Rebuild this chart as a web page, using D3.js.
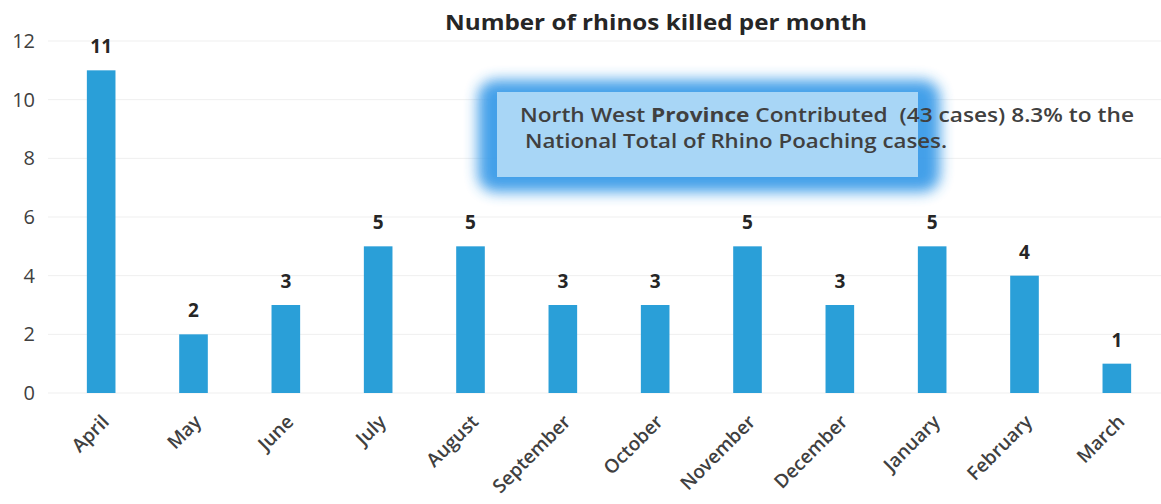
<!DOCTYPE html>
<html><head><meta charset="utf-8">
<script src="https://cdn.jsdelivr.net/npm/d3@7"></script>
<style>body{margin:0;background:#fff}</style>
</head><body>
<svg id="c" width="1161" height="504"></svg>
<script>
const months = ["April","May","June","July","August","September","October","November","December","January","February","March"];
const killed = [11,2,3,5,5,3,3,5,3,5,4,1];
const yTicks = [0,2,4,6,8,10,12];
const title = "Number of rhinos killed per month";
const noteLine1 = ["North West ", "Province", " Contributed\u00a0\u00a0(43 cases) 8.3% to the"];
const noteLine2 = "National Total of Rhino Poaching cases.";

const svg = d3.select("#c");
const m = {left:55, right:-2, top:41, bottom:111};
const W = 1161, H = 504;
const x = d3.scaleBand().domain(months).range([m.left, W - m.right]).paddingInner(0.69).paddingOuter(0.345);
const y = d3.scaleLinear().domain([0,12]).range([H - m.bottom, m.top]);

const defs = svg.append("defs");
const f = defs.append("filter").attr("id","glow").attr("x","-20%").attr("y","-40%").attr("width","140%").attr("height","180%");
f.append("feGaussianBlur").attr("stdDeviation",7);

// grid
svg.append("g").selectAll("line").data(yTicks).join("line")
  .attr("x1",48).attr("x2",W).attr("y1",d=>y(d)).attr("y2",d=>y(d))
  .attr("stroke","#efefef").attr("stroke-width",1);

// y axis labels
const yAxis = d3.axisLeft(y).tickValues(yTicks).tickSize(0).tickPadding(0);
const ga = svg.append("g").attr("transform","translate(35,0)").call(yAxis);
ga.select(".domain").remove();
ga.selectAll("text").attr("font-family","Open Sans, sans-serif").attr("font-size",20).attr("fill","#404040");

// bars
svg.append("g").selectAll("rect").data(killed).join("rect")
  .attr("x",(d,i)=>x(months[i])).attr("width",x.bandwidth())
  .attr("y",d=>y(d)).attr("height",d=>y(0)-y(d)).attr("fill","#2a9fd8");

// value labels
svg.append("g").selectAll("text").data(killed).join("text")
  .attr("x",(d,i)=>x(months[i])+x.bandwidth()/2).attr("y",d=>y(d)-17)
  .attr("text-anchor","middle").attr("font-family","Open Sans, sans-serif").attr("font-weight","bold")
  .attr("font-size",19).attr("fill","#262626").text(d=>d);

// x labels
const xa = svg.append("g").attr("transform",`translate(0,${y(0)})`).call(d3.axisBottom(x).tickSize(0).tickPadding(0));
xa.select(".domain").remove();
xa.selectAll("text").attr("font-family","Open Sans, sans-serif").attr("font-size",19).attr("font-weight",600).attr("fill","#404040")
  .attr("text-anchor","end").attr("dy",0)
  .attr("transform","translate(9,30) rotate(-45)");

// title
svg.append("text").attr("x",656).attr("y",30).attr("text-anchor","middle")
  .attr("font-family","Open Sans, sans-serif").attr("font-weight","bold").attr("font-size",22)
  .attr("fill","#262626").attr("textLength",422).attr("lengthAdjust","spacingAndGlyphs").text(title);

// annotation box
const bx = 478, by = 80, bw = 462, bh = 112;
svg.append("rect").attr("x",bx).attr("y",by).attr("width",bw).attr("height",bh).attr("rx",18)
  .attr("fill","#3a9be8").attr("filter","url(#glow)").attr("opacity",0.95);
svg.append("rect").attr("x",497).attr("y",92).attr("width",421).attr("height",85)
  .attr("fill","#a8d6f6");
const t1 = svg.append("text").attr("x",520).attr("y",122).attr("font-family","Open Sans, sans-serif")
  .attr("font-size",20).attr("font-weight",600).attr("fill","#404040")
  .attr("textLength",614).attr("lengthAdjust","spacingAndGlyphs");
t1.selectAll("tspan").data(noteLine1).join("tspan").attr("font-weight",(d,i)=>i===1?"bold":600).text(d=>d);
svg.append("text").attr("x",525).attr("y",148).attr("font-family","Open Sans, sans-serif")
  .attr("font-size",20).attr("font-weight",600).attr("fill","#404040")
  .attr("textLength",422).attr("lengthAdjust","spacingAndGlyphs").text(noteLine2);
</script>
</body></html>
